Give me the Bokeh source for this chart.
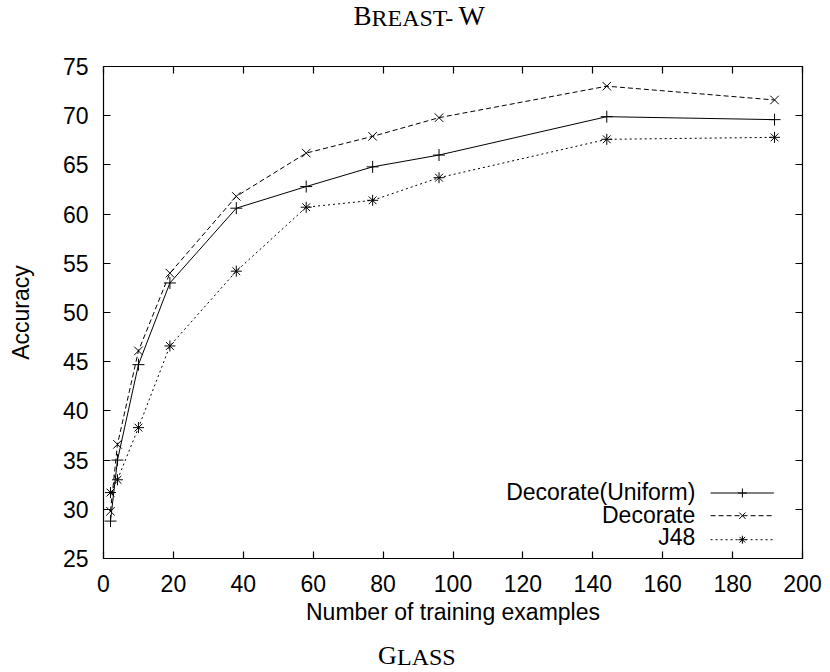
from bokeh.plotting import figure
from bokeh.layouts import column
from bokeh.models import Range1d, LinearAxis, FixedTicker, Label, CustomJSTickFormatter
from bokeh.embed import file_html
from bokeh.resources import INLINE

# ---- data ----
train_sizes = [2, 4, 10, 19, 38, 58, 77, 96, 144, 192]
decorate_uniform = [28.8, 35.0, 44.7, 53.0, 60.6, 62.8, 64.8, 66.0, 69.9, 69.6]
decorate = [29.8, 36.6, 46.1, 54.0, 61.8, 66.2, 67.9, 69.8, 73.0, 71.6]
j48 = [31.7, 33.0, 38.3, 46.6, 54.2, 60.7, 61.4, 63.7, 67.6, 67.8]
series_names = ["Decorate(Uniform)", "Decorate", "J48"]
x_ticks = [0, 20, 40, 60, 80, 100, 120, 140, 160, 180, 200]
y_ticks = [25, 30, 35, 40, 45, 50, 55, 60, 65, 70, 75]
x_label = "Number of training examples"
y_label = "Accuracy"

SANS = "Liberation Sans"
SERIF = "Liberation Serif"
FS = "23px"
W = 830

X0, X1 = 0, 200
Y0, Y1 = 25, 75


def text_strip(height):
    f = figure(width=W, height=height, x_range=Range1d(0, W), y_range=Range1d(0, height),
               output_backend="svg", toolbar_location=None,
               x_axis_location=None, y_axis_location=None, min_border=0)
    f.xgrid.visible = False
    f.ygrid.visible = False
    f.outline_line_color = None
    f.background_fill_color = "white"
    f.border_fill_color = "white"
    return f


def piece(fig, txt, x, y, size):
    fig.add_layout(Label(x=x, y=y, x_units="screen", y_units="screen", text=txt,
                         text_align="left", text_baseline="middle",
                         text_font=SERIF, text_font_size=size, text_color="black"))


# ---- top title strip (small caps: BREAST-W) ----
top_strip = text_strip(40)
piece(top_strip, "B", 250.0, 25, "27px")
piece(top_strip, "REAST-", 268.0, 23, "24px")
piece(top_strip, "W", 355.0, 25, "28px")

# ---- main plot ----
p = figure(width=W, height=600, x_range=Range1d(X0, X1), y_range=Range1d(Y0, Y1),
           output_backend="svg", toolbar_location=None,
           min_border_left=103, min_border_right=28, min_border_top=26, min_border_bottom=82)
p.xgrid.visible = False
p.ygrid.visible = False
p.outline_line_color = "black"
p.outline_line_width = 1.2
p.outline_line_alpha = 1
p.background_fill_color = "white"
p.border_fill_color = "white"


def style_axis(ax):
    ax.axis_line_color = None
    ax.major_tick_in = 7
    ax.major_tick_out = 0
    ax.major_tick_line_color = "black"
    ax.major_tick_line_width = 1.2
    ax.minor_tick_line_color = None
    ax.major_label_text_font = SANS
    ax.major_label_text_font_size = FS
    ax.major_label_text_color = "black"
    ax.axis_label_text_font = SANS
    ax.axis_label_text_font_size = FS
    ax.axis_label_text_font_style = "normal"
    ax.axis_label_text_color = "black"


xa = p.xaxis[0]
ya = p.yaxis[0]
xa.ticker = FixedTicker(ticks=x_ticks)
ya.ticker = FixedTicker(ticks=y_ticks)
style_axis(xa)
style_axis(ya)
xa.axis_label = x_label
ya.axis_label = y_label
xa.major_label_standoff = 16
ya.major_label_standoff = 15
xa.axis_label_standoff = 4
ya.axis_label_standoff = 26

empty = CustomJSTickFormatter(code="return ''")
top_ax = LinearAxis(ticker=FixedTicker(ticks=x_ticks), formatter=empty)
right_ax = LinearAxis(ticker=FixedTicker(ticks=y_ticks), formatter=empty)
style_axis(top_ax)
style_axis(right_ax)
p.add_layout(top_ax, "above")
p.add_layout(right_ax, "right")

styles = [
    dict(dash="solid", marker="cross", size=12),
    dict(dash="5 3", marker="x", size=12),
    dict(dash="2 3", marker="asterisk", size=11),
]
series = [decorate_uniform, decorate, j48]
for vals, st in zip(series, styles):
    p.line(train_sizes, vals, line_color="black", line_width=1, line_dash=st["dash"])
    p.scatter(train_sizes, vals, marker=st["marker"], size=st["size"],
              line_color="black", line_width=1)

# ---- legend (text right-aligned, sample on the right) ----
xspan = X1 - X0
yspan = Y1 - Y0
leg_x0 = X0 + 0.8685 * xspan
leg_x1 = X0 + 0.959 * xspan
leg_xm = X0 + 0.914 * xspan
row_fracs = [0.1331, 0.087, 0.0382]
text_mid = [66.5, 44.0, 21.1]
for name, st, fr, tm in zip(series_names, styles, row_fracs, text_mid):
    yy = Y0 + fr * yspan
    p.line([leg_x0, leg_x1], [yy, yy], line_color="black", line_width=1, line_dash=st["dash"])
    p.scatter([leg_xm], [yy], marker=st["marker"], size=st["size"] - 3,
              line_color="black", line_width=1)
    p.add_layout(Label(x=591.8, y=tm, x_units="screen", y_units="screen", text=name,
                       text_align="right", text_baseline="middle",
                       text_font=SANS, text_font_size=FS, text_color="black"))

# ---- bottom title strip (small caps: GLASS) ----
bottom_strip = text_strip(32)
piece(bottom_strip, "G", 274.5, 17, "26px")
piece(bottom_strip, "LASS", 293.5, 15.7, "24px")

layout = column(top_strip, p, bottom_strip, spacing=0)
open("out.html", "w").write(file_html(layout, INLINE))
